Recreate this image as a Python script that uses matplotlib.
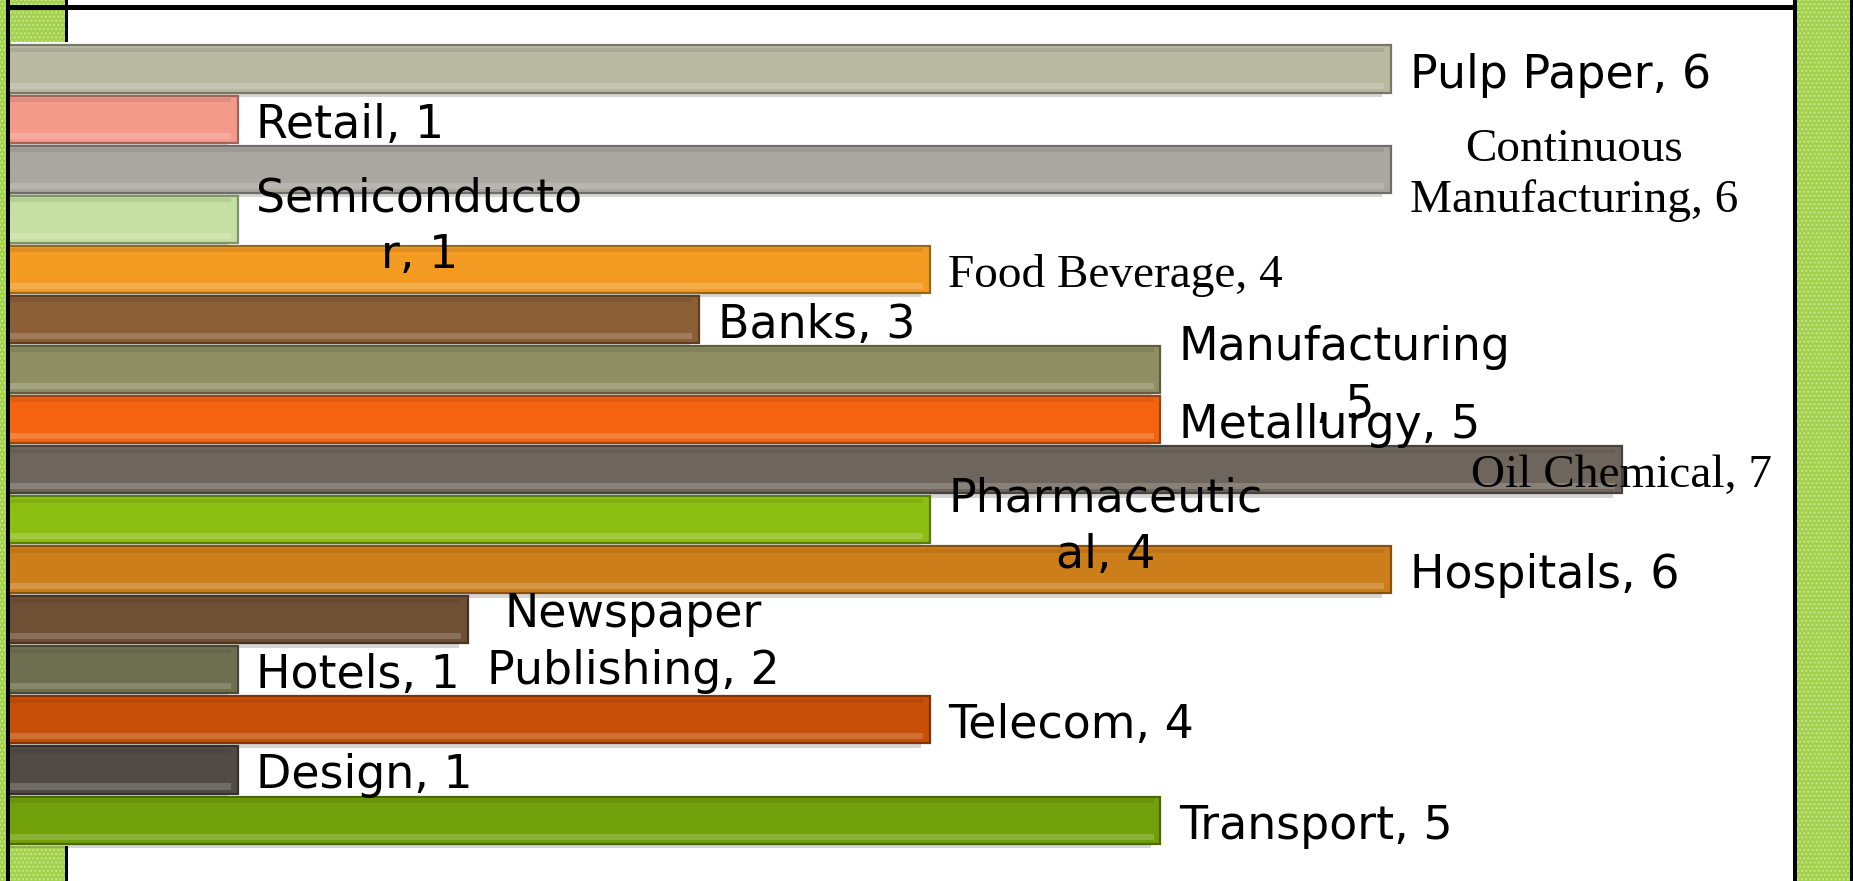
"""Horizontal bar chart of industries (slide style, green side strips)."""
import numpy as np
import matplotlib
matplotlib.use("Agg")
import matplotlib.pyplot as plt
from matplotlib.patches import Rectangle
from matplotlib.colors import to_rgb

# data, top to bottom
categories = ["Pulp Paper", "Retail", "Continuous Manufacturing", "Semiconductor",
              "Food Beverage", "Banks", "Manufacturing", "Metallurgy", "Oil Chemical",
              "Pharmaceutical", "Hospitals", "Newspaper Publishing", "Hotels",
              "Telecom", "Design", "Transport"]
values = [6, 1, 6, 1, 4, 3, 5, 5, 7, 4, 6, 2, 1, 4, 1, 5]
# label text as it wraps on the slide
shown_names = ["Pulp Paper", "Retail", "Continuous\nManufacturing", "Semiconducto\nr",
               "Food Beverage", "Banks", "Manufacturing\n", "Metallurgy", "Oil Chemical",
               "Pharmaceutic\nal", "Hospitals", "Newspaper\nPublishing", "Hotels",
               "Telecom", "Design", "Transport"]

bar_colors = ["#b9b9a1", "#f39a8a", "#aaa7a1", "#c5e0a2", "#f39b23", "#8c5f38",
              "#8f8f63", "#f46410", "#6e665c", "#8cbf12", "#cc7e1b", "#6f5035",
              "#6d7050", "#c84f08", "#524b45", "#72a00a"]
serif_labels = {"Continuous Manufacturing", "Food Beverage", "Oil Chemical"}
# small vertical nudges (in rows) for the labels
nudge = {"Continuous Manufacturing": 0.12, "Semiconductor": 0.16, "Manufacturing": 0.14,
         "Pharmaceutical": 0.15, "Newspaper Publishing": 0.46}

W, H = 1853, 881
fig = plt.figure(figsize=(W / 100, H / 100), dpi=100)
fig.patch.set_facecolor("white")


def px_rect(x, y, w, h, **kw):
    # rectangle in pixel coords measured from the top-left corner
    return Rectangle((x / W, 1 - (y + h) / H), w / W, h / H,
                     transform=fig.transFigure, **kw)


green = "#a3d14e"
dots = "#c6e88c"
for (x, y, w, h) in [(0, 0, 11, H), (11, 0, 55, 42), (11, 846, 55, 35), (1796, 0, 57, H)]:
    fig.add_artist(px_rect(x, y, w, h, facecolor=green, edgecolor=dots, hatch="....",
                           lw=0, zorder=-2))

for (x, y, w, h) in [(6, 0, 4, H), (6, 5, 1791, 5), (1793, 0, 4, H), (1850, 0, 3, H),
                     (65, 0, 3, 42), (65, 846, 3, 35)]:
    fig.add_artist(px_rect(x, y, w, h, facecolor="black", lw=0, zorder=5))

# axes: zero at x=7px, 230.7 px per unit, rows 50 px apart, first row centred at y=69
x0, x1 = 7, 1795
ax = fig.add_axes([x0 / W, 0, (x1 - x0) / W, (H - 10) / H])
ax.set_facecolor("none")
ax.axis("off")
ax.set_xlim(0, (x1 - x0) / 230.7)
ax.set_ylim((H - 69) / 50.07, -(69 - 10) / 50.07)

y = np.arange(len(categories))
vals = np.array(values, dtype=float)
edge = [tuple(c * 0.65 for c in to_rgb(col)) for col in bar_colors]

# drop shadow
ax.barh(y + 0.09, vals - 0.04, height=0.94, color="black", alpha=0.16, zorder=1)
ax.barh(y, vals, height=0.94, color=bar_colors, edgecolor=edge, linewidth=1.6, zorder=2)
# bevel highlights
ax.barh(y + 0.33, vals - 0.03, height=0.12, color="white", alpha=0.18, lw=0, zorder=3)
ax.barh(y - 0.38, vals - 0.03, height=0.08, color="black", alpha=0.08, lw=0, zorder=3)

for i, (cat, name, v) in enumerate(zip(categories, shown_names, values)):
    txt = f"{name}, {v}"
    yy = i + nudge.get(cat, 0.12)
    if cat == "Oil Chemical":
        ax.text(v, yy, txt, ha="center", va="center", fontsize=34,
                family="Liberation Serif", zorder=6)
    elif cat in serif_labels:
        ax.text(v + 0.08, yy, txt, ha="left", va="center", multialignment="center",
                fontsize=34, family="Liberation Serif", linespacing=1.25, zorder=6)
    else:
        ax.text(v + 0.08, yy, txt, ha="left", va="center", multialignment="center",
                fontsize=33, family="DejaVu Sans", linespacing=1.35, zorder=6)

plt.savefig("out.png", dpi=100, facecolor="white")
